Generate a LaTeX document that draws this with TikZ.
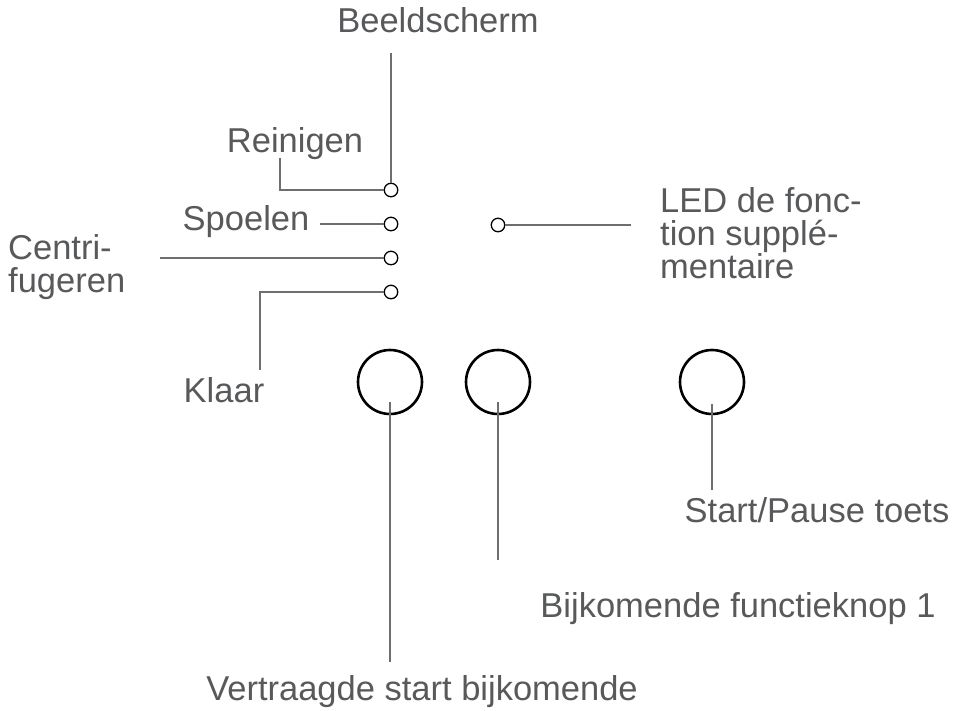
\documentclass[tikz,border=0pt]{standalone}
\usepackage{fontspec}
\setmainfont{Liberation Sans}
\usetikzlibrary{positioning}
\definecolor{txtgray}{HTML}{58595B}
\definecolor{linegray}{HTML}{6D6E71}
\tikzset{
  lbl/.style={inner sep=0pt,anchor=base,text=txtgray,font=\fontsize{34.5}{33}\selectfont},
  led/.style={circle,draw=black,line width=1.3pt,minimum size=13.5pt,inner sep=0pt},
  knop/.style={circle,draw=black,line width=2.6pt,minimum size=64pt,inner sep=0pt},
  lead/.style={draw=linegray,line width=2pt}
}
\begin{document}
\begin{tikzpicture}[x=1pt,y=-1pt]
\useasboundingbox (0,0) rectangle (957,710);
\node[led] (l1) at (391,190) {};
\node[led] (l2) at (391,224) {};
\node[led] (l3) at (391,258) {};
\node[led] (l4) at (391,292) {};
\node[led] (l5) at (498,225) {};
\node[knop] (b1) at (390,382) {};
\node[knop] (b2) at (498,382) {};
\node[knop] (b3) at (712,382) {};
\node[lbl] (beeld) at (438,32) {Beeldscherm};
\node[lbl] (rein)  at (295,152) {Reinigen};
\node[lbl] (spoel) at (246,230) {Spoelen};
\node[lbl,anchor=base west,align=left] (centri) at (8,292) {Centri-\\fugeren};
\node[lbl] (klaar) at (224,402) {Klaar};
\node[lbl,anchor=base west,align=left] (fled) at (660,278) {LED de fonc-\\tion supplé-\\mentaire};
\node[lbl] (vertr) at (422,700) {Vertraagde start bijkomende};
\node[lbl] (bijk)  at (738,617) {Bijkomende functieknop 1};
\node[lbl] (start) at (817,522) {Start/Pause toets};
\coordinate (beeld-e) at (391,53);
\coordinate (rein-e)  at (280,158);
\coordinate (spoel-e) at (320,224);
\coordinate (centri-e) at (160,258);
\coordinate (klaar-e) at (260,370);
\coordinate (fled-e)  at (631,225);
\coordinate (b1-s) at (390,402);
\coordinate (b1-e) at (390,662);
\coordinate (b2-s) at (498,402);
\coordinate (b2-e) at (498,560);
\coordinate (b3-s) at (712,404);
\coordinate (b3-e) at (712,490);
\draw[lead] (beeld-e) -- (l1.north);
\draw[lead] (rein-e) |- (l1.west);
\draw[lead] (spoel-e) -- (l2.west);
\draw[lead] (centri-e) -- (l3.west);
\draw[lead] (klaar-e) |- (l4.west);
\draw[lead] (l5.east) -- (fled-e);
\draw[lead] (b1-s) -- (b1-e);
\draw[lead] (b2-s) -- (b2-e);
\draw[lead] (b3-s) -- (b3-e);
\end{tikzpicture}
\end{document}
